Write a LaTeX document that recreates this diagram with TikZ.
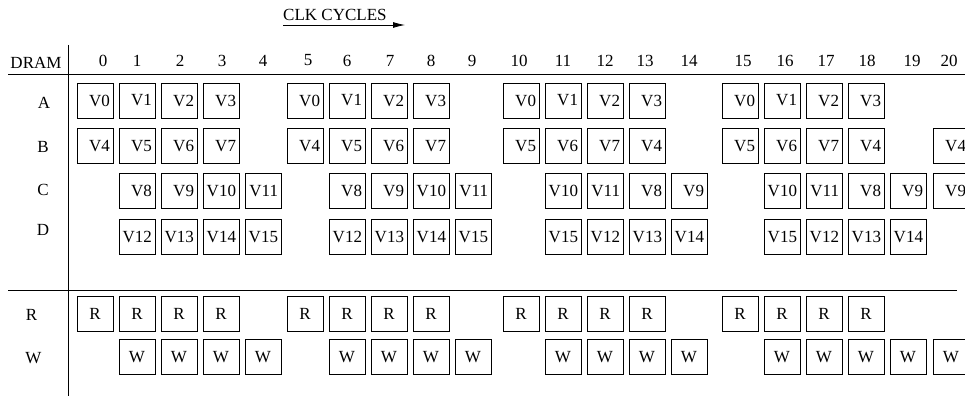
\documentclass[tikz,border=0pt]{standalone}
\usepackage{fontspec}
\setmainfont{Liberation Serif}
\usetikzlibrary{arrows.meta}

\tikzset{
	slot/.style={draw, line width=1pt, minimum width=36pt, minimum height=35pt, inner ysep=0pt},
	vslot/.style={slot, text width=30pt, align=right, inner xsep=3pt},
	rwslot/.style={slot, inner xsep=0pt},
}

\begin{document}
\begin{tikzpicture}[x=1pt, y=-1pt, every node/.style={font=\fontsize{17}{20}\selectfont}]
		\useasboundingbox (0, 0) rectangle (965, 396);

		% cycle columns and table rows
		\foreach \px [count=\i from 0] in {95,137,179,221,263,305,347,389,431,473,521,563,605,647,689,740,782,824,866,908,951}
			\coordinate (c\i) at (\px, 0);
		\coordinate (rowA) at (0, 100.5);
		\coordinate (rowB) at (0, 146);
		\coordinate (rowC) at (0, 191);
		\coordinate (rowD) at (0, 237);
		\coordinate (rowR) at (0, 314);
		\coordinate (rowW) at (0, 357);

		% clock heading
		\node[anchor=west, inner sep=0pt] (clk) at (283, 15) {CLK CYCLES};
		\coordinate (clkstart) at (283, 25);
		\coordinate (clkend) at (405, 25);
		\draw[line width=0.8pt, -{Latex[length=12pt, width=6pt]}] (clkstart)--(clkend);

		% header and rules
		\node (dram) at (36, 62.5) {DRAM};
		\foreach \px [count=\i from 0] in {103,137,180,222,263,308,347,390,431,472,519,563,605,645,689,743,785,826,867,912,949}
			\node (n\i) at (\px, 60.5) {\i};
		\draw[line width=1pt] (8, 74)--(965, 74);
		\draw[line width=1pt] (8, 290)--(957, 290);
		\draw[line width=1pt] (68, 45)--(68, 396);

		% bank labels
		\node (lblA) at (44, 103) {A};
		\node (lblB) at (43, 147) {B};
		\node (lblC) at (43, 190) {C};
		\node (lblD) at (43, 230) {D};
		\node (lblR) at (31.5, 315) {R};
		\node (lblW) at (33.5, 358) {W};

		% vertices read from each bank
		\foreach \cyc/\lbl in {0/V0,1/V1,2/V2,3/V3,5/V0,6/V1,7/V2,8/V3,10/V0,11/V1,12/V2,13/V3,15/V0,16/V1,17/V2,18/V3}
			\node[vslot] (a\cyc) at (c\cyc |- rowA) {\lbl};
		\foreach \cyc/\lbl in {0/V4,1/V5,2/V6,3/V7,5/V4,6/V5,7/V6,8/V7,10/V5,11/V6,12/V7,13/V4,15/V5,16/V6,17/V7,18/V4,20/V4}
			\node[vslot] (b\cyc) at (c\cyc |- rowB) {\lbl};
		\foreach \cyc/\lbl in {1/V8,2/V9,3/V10,4/V11,6/V8,7/V9,8/V10,9/V11,11/V10,12/V11,13/V8,14/V9,16/V10,17/V11,18/V8,19/V9,20/V9}
			\node[vslot] (cc\cyc) at (c\cyc |- rowC) {\lbl};
		\foreach \cyc/\lbl in {1/V12,2/V13,3/V14,4/V15,6/V12,7/V13,8/V14,9/V15,11/V15,12/V12,13/V13,14/V14,16/V15,17/V12,18/V13,19/V14}
			\node[vslot] (d\cyc) at (c\cyc |- rowD) {\lbl};

		% read and write slots
		\foreach \cyc in {0,1,2,3,5,6,7,8,10,11,12,13,15,16,17,18}
			\node[rwslot] (r\cyc) at (c\cyc |- rowR) {R};
		\foreach \cyc in {1,2,3,4,6,7,8,9,11,12,13,14,16,17,18,19,20}
			\node[rwslot] (w\cyc) at (c\cyc |- rowW) {W};
	\end{tikzpicture}
\end{document}
